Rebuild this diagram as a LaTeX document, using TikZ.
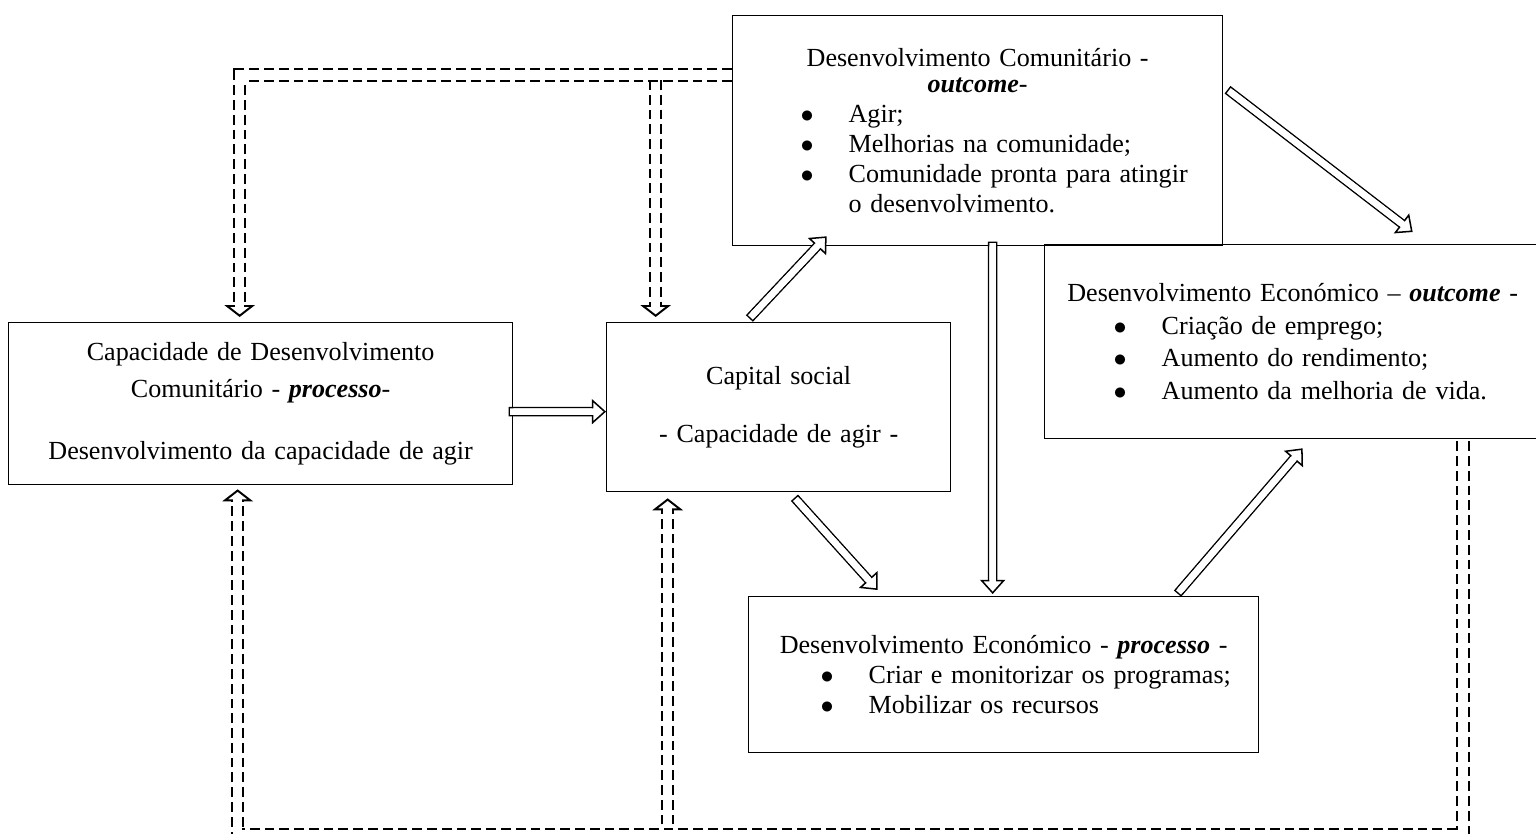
\documentclass[tikz,border=0pt]{standalone}
\usepackage{fontspec}
\setmainfont{Liberation Serif}
\usetikzlibrary{arrows.meta,calc}

\newlength\pxu
\setlength\pxu{0.46pt}
% bullet line and its continuation
\newcommand{\bitem}[3]{\makebox[#1\pxu][l]{\hspace*{#2\pxu}\makebox[48\pxu][l]{$\bullet$}#3}}
\newcommand{\bnext}[3]{\makebox[#1\pxu][l]{\hspace*{#2\pxu}\hspace*{48\pxu}#3}}

\tikzset{
  box/.style={draw, line width=0.6pt, anchor=north west, inner sep=0pt, align=center,
    font=\fontsize{12}{13.8}\selectfont},
  hollow/.style={draw, line width=0.7pt, double, double distance=3pt, line cap=rect,
    -{Triangle[length=6.5pt, width=11.5pt, line width=0.7pt, fill=white]},
    postaction={draw=white, line width=3pt, line cap=butt, arrows=-, shorten >=5pt}},
  feedback/.style={draw, line width=0.9pt, double, double distance=4.4pt,
    dash pattern=on 4.5pt off 2.3pt,
    -{Triangle[length=5.5pt, width=14pt, line width=0.9pt, fill=white]},
    postaction={draw=white, line width=4.4pt, solid, arrows=-, shorten >=4pt}}
}

\begin{document}
\begin{tikzpicture}[x=0.46pt, y=-0.46pt]
    \useasboundingbox (0,0) rectangle (1536,834);
    % boxes
    \node[box, text width=231.84pt, minimum height=74.52pt] (capdev) at (8,322)
        {Capacidade de Desenvolvimento\\[3.2pt]
         Comunitário - \textbf{\textit{processo}}-\\[14.7pt]
         Desenvolvimento da capacidade de agir};
    \node[box, text width=158.24pt, minimum height=77.74pt] (capsoc) at (606,322)
        {Capital social\\[13pt]
         - Capacidade de agir -};
    \node[box, text width=225.4pt, minimum height=105.8pt] (comout) at (732,15)
        {Desenvolvimento Comunitário -\\[-1.5pt]
         \textbf{\textit{outcome}}-\\
         \bitem{490}{68}{Agir;}\\
         \bitem{490}{68}{Melhorias na comunidade;}\\
         \bitem{490}{68}{Comunidade pronta para atingir}\\
         \bnext{490}{68}{o desenvolvimento.}};
    \node[box, text width=228.16pt, minimum height=89.24pt] (ecoout) at (1044,244)
        {Desenvolvimento Económico – \textbf{\textit{outcome}} -\\[1.2pt]
         \bitem{496}{69}{Criação de emprego;}\\[1.2pt]
         \bitem{496}{69}{Aumento do rendimento;}\\[1.2pt]
         \bitem{496}{69}{Aumento da melhoria de vida.}};
    \node[box, text width=234.6pt, minimum height=71.76pt] (ecoproc) at (748,596)
        {Desenvolvimento Económico - \textbf{\textit{processo}} -\\
         \bitem{510}{72}{Criar e monitorizar os programas;}\\
         \bitem{510}{72}{Mobilizar os recursos}};

    % solid arrows
    \draw[hollow] ($(capdev.east)+(0,8)$) -- ($(capsoc.west)+(0,4.5)$);
    \draw[hollow] ($(capsoc.north)+(-26,-7)$) -- ($(comout.south)+(-151,-10)$);
    \draw[hollow] ($(comout.east)+(8,-38)$) -- ($(ecoout.north)+(120,-12)$);
    \draw[hollow] ($(comout.south)+(15,0)$) -- ($(ecoproc.north)+(-11,-2)$);
    \draw[hollow] ($(capsoc.south)+(19,9)$) -- ($(ecoproc.north)+(-126,-6)$);
    \draw[hollow] ($(ecoproc.north)+(177,-6)$) -- ($(ecoout.south)+(10,9)$);

    % dashed feedback
    \draw[feedback] ($(capsoc.north)+(-123,-242)$) -- ($(capsoc.north)+(-123,-5)$);
    \draw[feedback] ($(comout.north west)+(0,60)$) -| ($(capdev.north)+(-21,-5)$);
    \draw[feedback] ($(capsoc.south)+(-111,332)$) -- ($(capsoc.south)+(-111,6)$);
    \draw[feedback] ($(ecoout.south west)+(419,2)$) |- ($(capdev.south)+(-23,349)$)
        -- ($(capdev.south)+(-23,4)$);
\end{tikzpicture}
\end{document}
